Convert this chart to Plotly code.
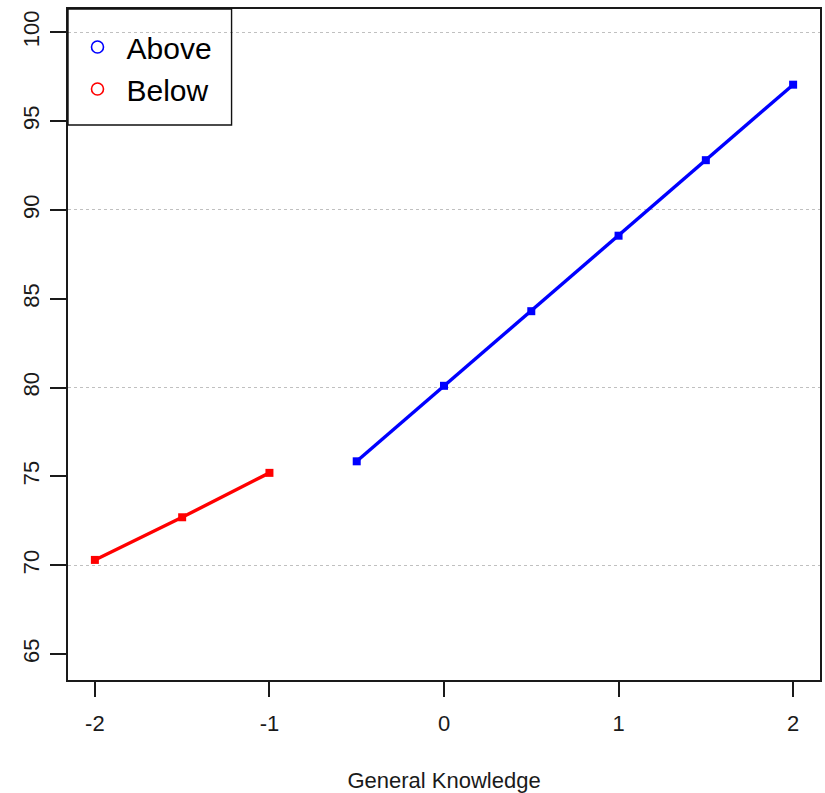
import plotly.graph_objects as go

# General knowledge scores, split at the cut point
below_x = [-2.0, -1.5, -1.0]
below_y = [70.3, 72.7, 75.2]
above_x = [-0.5, 0.0, 0.5, 1.0, 1.5, 2.0]
above_y = [75.85, 80.1, 84.3, 88.55, 92.8, 97.05]

x_ticks = [-2, -1, 0, 1, 2]
y_ticks = [65, 70, 75, 80, 85, 90, 95, 100]
y_grid = [70, 80, 90, 100]

FONT = "Liberation Sans, Arial, sans-serif"
INK = "#1a1a1a"

W, H = 825, 793
M_L, M_R, M_T, M_B = 68, 3, 9, 113
PW, PH = W - M_L - M_R, H - M_T - M_B


def px_x(p):
    return (p - M_L) / PW


def px_y(p):
    return 1 - (p - M_T) / PH


fig = go.Figure()

fig.add_trace(go.Scatter(
    x=below_x, y=below_y, mode="lines+markers", showlegend=False,
    line=dict(color="#ff0000", width=3.4),
    marker=dict(symbol="square", size=8, color="#ff0000"),
))
fig.add_trace(go.Scatter(
    x=above_x, y=above_y, mode="lines+markers", showlegend=False,
    line=dict(color="#0000ff", width=3.4),
    marker=dict(symbol="square", size=8, color="#0000ff"),
))

# Legend keys: open circles
fig.add_trace(go.Scatter(
    x=[None], y=[None], mode="markers", name="Above",
    marker=dict(symbol="circle-open", size=12, color="#0000ff", line=dict(width=1.6)),
))
fig.add_trace(go.Scatter(
    x=[None], y=[None], mode="markers", name="Below",
    marker=dict(symbol="circle-open", size=12, color="#ff0000", line=dict(width=1.6)),
))

# Legend frame (transparent, the grid line shows through)
fig.add_shape(
    type="rect", xref="paper", yref="paper",
    x0=px_x(68), x1=px_x(232), y0=px_y(125), y1=px_y(9),
    line=dict(color="#111111", width=1.4), fillcolor="rgba(0,0,0,0)",
)

fig.update_layout(
    width=W, height=H,
    margin=dict(l=M_L, r=M_R, t=M_T, b=M_B),
    paper_bgcolor="white", plot_bgcolor="white",
    font=dict(family=FONT, color=INK),
    legend=dict(
        x=px_x(68.5), y=px_y(21), xanchor="left", yanchor="top",
        bgcolor="rgba(0,0,0,0)", borderwidth=0,
        font=dict(size=30, color="black", family=FONT),
        itemsizing="trace", itemwidth=48,
    ),
    xaxis=dict(
        range=[-2.154, 2.154],
        tickvals=x_ticks, ticktext=[str(v) for v in x_ticks],
        ticks="outside", ticklen=15, tickwidth=1.5, tickcolor=INK,
        showgrid=False, zeroline=False,
        showline=True, linecolor=INK, linewidth=1.5, mirror=True,
        tickfont=dict(size=22, color=INK),
        ticklabelstandoff=8,
        title=dict(text="General Knowledge", font=dict(size=22, color=INK), standoff=37),
    ),
    yaxis=dict(
        range=[63.54, 101.31],
        tickvals=y_ticks, ticktext=[str(v) for v in y_ticks],
        tickangle=-90,
        ticks="outside", ticklen=16, tickwidth=1.5, tickcolor=INK,
        showgrid=False, zeroline=False,
        showline=True, linecolor=INK, linewidth=1.5, mirror=True,
        tickfont=dict(size=22, color=INK),
        ticklabelstandoff=2,
        minor=dict(tickvals=y_grid, showgrid=True, gridcolor="#c0c0c0",
                   griddash="dot", gridwidth=1.2, ticks=""),
    ),
)

fig.write_html("out.html")
